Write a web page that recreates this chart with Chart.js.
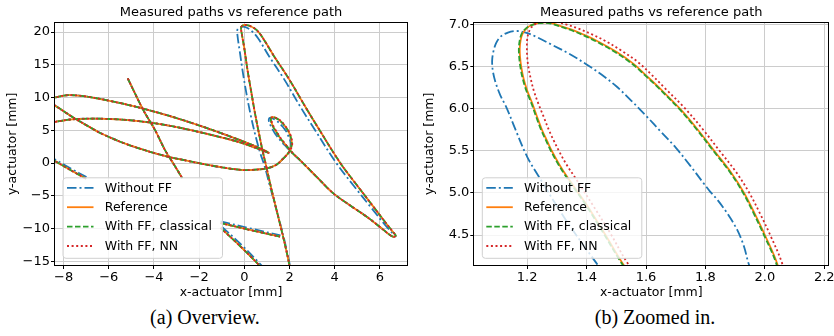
<!DOCTYPE html>
<html><head><meta charset="utf-8">
<script src="https://cdn.jsdelivr.net/npm/chart.js@4.4.1/dist/chart.umd.min.js"></script>
<style>
html,body{margin:0;padding:0;background:#fff;overflow:hidden;width:834px;height:336px;position:relative;}
#c1{position:absolute;left:0;top:0;}
#c2{position:absolute;left:417px;top:0;}
.cap{position:absolute;top:305px;font-family:'Liberation Serif','Times New Roman',serif;font-size:20px;color:#000;white-space:nowrap;transform:translateX(-50%);line-height:24px;}
</style></head><body>
<canvas id="c1" width="417" height="300"></canvas>
<canvas id="c2" width="437" height="300"></canvas>
<div class="cap" style="left:205px">(a) Overview.</div>
<div class="cap" style="left:655px">(b) Zoomed in.</div>
<script>
// ---------- tick values & labels ----------
const xTicksA = [-8, -6, -4, -2, 0, 2, 4, 6];
const xTickLabelsA = ['−8', '−6', '−4', '−2', '0', '2', '4', '6'];
const yTicksA = [-15, -10, -5, 0, 5, 10, 15, 20];
const yTickLabelsA = ['−15', '−10', '−5', '0', '5', '10', '15', '20'];
const xTicksB = [1.2, 1.4, 1.6, 1.8, 2.0, 2.2];
const xTickLabelsB = ['1.2', '1.4', '1.6', '1.8', '2.0', '2.2'];
const yTicksB = [4.5, 5.0, 5.5, 6.0, 6.5, 7.0];
const yTickLabelsB = ['4.5', '5.0', '5.5', '6.0', '6.5', '7.0'];

const seriesLabels = ['Without FF', 'Reference', 'With FF, classical', 'With FF, NN'];

// ---------- path pieces (x, y in mm) ----------
// pieces where all four paths coincide at overview scale
const pathC = [[-8.6, 9.25], [-8.38, 8.78], [-7.9, 7.7], [-7.49, 6.78], [-6.9, 5.6], [-6.38, 4.6], [-5.3, 3.0],
  [-4.17, 1.72], [-3.36, 0.96], [-2.6, 0.4], [-1.96, -0.05], [-1.0, -0.65], [-0.04, -1.07], [0.5, -1.0],
  [0.99, -0.81], [1.4, -0.3], [1.73, 0.72], [1.93, 1.45]];
const pathInner = [[3.2, -2.1], [3.94, -4.63], [4.7, -6.5], [5.42, -8.19], [6.0, -9.75], [6.45, -11.0],
  [6.6, -11.25], [6.7, -11.1]];
const pathB = [[-8.7, 9.75], [-8.38, 10.02], [-7.79, 10.37], [-6.9, 10.11], [-5.42, 9.1], [-3.95, 7.83],
  [-2.48, 6.3], [-1.0, 4.53], [0.47, 2.59], [1.07, 1.57], [0.6, 2.2], [-0.27, 3.25], [-1.74, 4.53],
  [-3.21, 5.64], [-4.69, 6.41], [-6.16, 6.76], [-7.49, 6.71], [-8.38, 6.3], [-8.7, 6.1]];
const pathA = [[-5.16, 12.92], [-4.47, 8.09], [-3.95, 5.03], [-3.51, 1.98], [-3.1, -0.3], [-2.75, -2.3]];
const pathD = [[-8.7, 0.95], [-8.38, 0.3], [-7.7, -1.05], [-7.0, -2.4]];
const pathE = [[-1.05, -9.15], [0.3, -10.25], [1.58, -11.24]];
const pathF = [[-1.05, -9.9], [-0.18, -12.7], [0.69, -15.7], [0.8, -16.2]];

// reference: small loop and big loop
const refLoop = [[2.02, 1.98], [2.09, 2.6], [2.1, 3.1], [2.08, 3.6], [2.043, 4.143], [2.0, 4.5], [1.965, 4.76],
  [1.93, 5.0], [1.885, 5.25], [1.83, 5.5], [1.775, 5.75], [1.715, 6.0], [1.645, 6.25], [1.6, 6.4],
  [1.557, 6.54], [1.5, 6.68], [1.44, 6.8], [1.4, 6.87], [1.35, 6.945], [1.31, 6.99], [1.285, 7.018],
  [1.265, 7.03], [1.24, 7.025], [1.215, 7.0], [1.198, 6.96], [1.185, 6.9], [1.178, 6.82], [1.175, 6.72],
  [1.176, 6.62], [1.18, 6.5], [1.188, 6.36], [1.2, 6.22], [1.218, 6.06], [1.232, 5.92], [1.25, 5.75],
  [1.267, 5.62], [1.283, 5.5], [1.308, 5.34], [1.335, 5.19], [1.4, 4.86], [1.46, 4.52], [1.518, 4.18],
  [1.6, 3.75], [1.75, 3.1], [1.9, 2.5], [2.02, 1.98], [2.2, 1.3], [2.46, 0.46]];
const refBig = [[6.6, -10.6], [6.3, -9.3], [5.71, -6.65], [5.0, -3.45], [4.23, 0.1], [3.3, 5.2], [2.7, 8.6],
  [2.0, 12.7], [1.3, 16.4], [0.8, 19.2], [0.55, 20.3], [0.3, 20.85], [0.11, 21.05], [-0.04, 21.05],
  [-0.14, 20.7], [-0.1, 19.5], [0.0, 17.5], [0.15, 14.0], [0.3, 11.0], [0.45, 8.0], [0.62, 5.0], [0.8, 2.0],
  [0.97, -0.5], [1.2, -4.0], [1.45, -7.5], [1.7, -11.0], [1.9, -14.0], [2.05, -16.5]];

// with FF, classical: small loop
const clsLoop = [[2.02, 1.98], [2.087, 2.6], [2.097, 3.1], [2.077, 3.6], [2.04, 4.143], [1.997, 4.5], [1.962, 4.76],
  [1.927, 5.0], [1.882, 5.25], [1.827, 5.5], [1.772, 5.75], [1.712, 6.0], [1.642, 6.25], [1.597, 6.4],
  [1.554, 6.535], [1.497, 6.675], [1.437, 6.795], [1.397, 6.865], [1.347, 6.94], [1.308, 6.985], [1.283, 7.013],
  [1.263, 7.026], [1.238, 7.021], [1.213, 6.996], [1.195, 6.956], [1.182, 6.9], [1.175, 6.82], [1.172, 6.72],
  [1.173, 6.62], [1.177, 6.5], [1.185, 6.36], [1.197, 6.22], [1.215, 6.06], [1.229, 5.92], [1.247, 5.75],
  [1.264, 5.62], [1.28, 5.5], [1.305, 5.34], [1.332, 5.19], [1.397, 4.86], [1.457, 4.52], [1.515, 4.18],
  [1.597, 3.75], [1.747, 3.1], [1.898, 2.5], [2.018, 1.98], [2.198, 1.3], [2.458, 0.46]];

// with FF, NN: small loop
const nnLoop = [[2.04, 1.98], [2.11, 2.6], [2.12, 3.1], [2.1, 3.6], [2.06, 4.143], [2.018, 4.5], [1.983, 4.76],
  [1.948, 5.0], [1.903, 5.25], [1.848, 5.5], [1.793, 5.75], [1.733, 6.0], [1.663, 6.25], [1.618, 6.41],
  [1.574, 6.555], [1.515, 6.7], [1.46, 6.815], [1.42, 6.885], [1.37, 6.96], [1.33, 7.008], [1.305, 7.035],
  [1.282, 7.05], [1.255, 7.045], [1.232, 7.02], [1.215, 6.975], [1.205, 6.91], [1.2, 6.83], [1.199, 6.73],
  [1.2, 6.62], [1.204, 6.5], [1.212, 6.36], [1.222, 6.22], [1.238, 6.06], [1.254, 5.92], [1.273, 5.75],
  [1.29, 5.62], [1.307, 5.5], [1.332, 5.34], [1.36, 5.19], [1.42, 4.86], [1.48, 4.52], [1.535, 4.18],
  [1.62, 3.75], [1.77, 3.1], [1.91, 2.5], [2.03, 1.98], [2.21, 1.3], [2.47, 0.46]];

// without FF: small loop, big loop and offset pieces
const noffLoop = [[2.0, 1.95], [2.06, 2.6], [2.05, 3.2], [2.0, 3.7], [1.947, 4.143], [1.93, 4.36], [1.907, 4.56],
  [1.873, 4.76], [1.84, 4.92], [1.815, 5.02], [1.795, 5.11], [1.75, 5.32], [1.7, 5.54], [1.65, 5.73],
  [1.6, 5.92], [1.55, 6.1], [1.5, 6.27], [1.45, 6.41], [1.4, 6.53], [1.34, 6.66], [1.28, 6.77], [1.23, 6.86],
  [1.195, 6.91], [1.164, 6.928], [1.135, 6.91], [1.11, 6.86], [1.095, 6.78], [1.086, 6.68], [1.082, 6.57],
  [1.085, 6.44], [1.095, 6.3], [1.11, 6.16], [1.13, 6.02], [1.16, 5.76], [1.2, 5.43], [1.24, 5.19],
  [1.33, 4.68], [1.43, 4.18], [1.52, 3.75], [1.7, 3.05], [1.87, 2.45], [2.0, 1.95], [2.2, 1.25], [2.46, 0.46]];
const noffBig = [[6.56, -10.7], [6.22, -9.4], [5.6, -6.75], [4.85, -3.5], [4.05, 0.1], [3.1, 5.2], [2.48, 8.6],
  [1.78, 12.7], [1.08, 16.4], [0.6, 19.1], [0.3, 20.25], [0.05, 20.75], [-0.12, 20.8], [-0.3, 20.4],
  [-0.3, 19.4], [-0.2, 17.0], [-0.05, 13.5], [0.1, 10.5], [0.27, 7.5], [0.47, 4.5], [0.68, 1.8], [0.9, -0.5],
  [1.17, -4.0], [1.45, -7.5], [1.72, -11.0], [1.92, -14.0], [2.07, -16.5]];
const noffD = [[-8.7, 1.2], [-8.38, 0.56], [-7.7, -0.8], [-6.95, -2.2]];
const noffE = [[-1.05, -8.9], [0.3, -10.0], [1.6, -11.05]];
const noffF = [[-1.0, -9.7], [-0.12, -12.5], [0.78, -15.7], [0.9, -16.2]];

// ---------- assemble series (NaN separates pieces) ----------
function assemble(polylines) {
  const out = [];
  polylines.forEach((pl, i) => {
    if (i > 0) out.push({x: NaN, y: NaN});
    pl.forEach(p => out.push({x: p[0], y: p[1]}));
  });
  return out;
}
const noffData = assemble([pathC.concat(noffLoop, pathInner, noffBig), pathB, pathA, noffD, noffE, noffF]);
const refData = assemble([pathC.concat(refLoop, pathInner, refBig), pathB, pathA, pathD, pathE, pathF]);
const clsData = assemble([pathC.concat(clsLoop, pathInner, refBig), pathB, pathA, pathD, pathE, pathF]);
const nnData = assemble([pathC.concat(nnLoop, pathInner, refBig), pathB, pathA, pathD, pathE, pathF]);

const styles = [
  {color: '#1f77b4', dash: [9.5, 3, 2, 3]},
  {color: '#ff7f0e', dash: []},
  {color: '#2ca02c', dash: [5.5, 2.5]},
  {color: '#d62728', dash: [2, 2.6]}
];
const LW = 1.8;

function datasets() {
  const all = [noffData, refData, clsData, nnData];
  return all.map((d, i) => ({
    label: seriesLabels[i],
    data: d,
    borderColor: styles[i].color,
    backgroundColor: styles[i].color,
    borderDash: styles[i].dash,
    borderWidth: LW,
    pointRadius: 0,
    pointHoverRadius: 0,
    fill: false,
    tension: 0.35,
    spanGaps: false,
    clip: 0,
    order: 4 - i
  }));
}

Chart.defaults.font.family = "'DejaVu Sans', sans-serif";
Chart.defaults.color = '#000';

const framePlugin = {
  id: 'frame',
  afterDraw(chart) {
    const {ctx, chartArea: ca} = chart;
    ctx.save();
    ctx.strokeStyle = '#000';
    ctx.lineWidth = 1;
    const l = Math.round(ca.left) - 0.5, t = Math.round(ca.top) - 0.5;
    const r = Math.round(ca.right) + 0.5, b = Math.round(ca.bottom) + 0.5;
    ctx.strokeRect(l, t, r - l, b - t);
    ctx.restore();
  }
};

const legendPlugin = {
  id: 'insideLegend',
  afterDatasetsDraw(chart) {
    const {ctx, chartArea: ca} = chart;
    const w = 159.5, h = 80.5;
    const x = ca.left + 7.5, y = ca.bottom - 7.2 - h;
    ctx.save();
    ctx.beginPath();
    ctx.roundRect(x + 0.5, y + 0.5, w, h, 3);
    ctx.fillStyle = 'rgba(255,255,255,0.8)';
    ctx.fill();
    ctx.strokeStyle = '#d0d0d0';
    ctx.lineWidth = 1;
    ctx.stroke();
    ctx.font = "12.5px 'DejaVu Sans', sans-serif";
    ctx.textBaseline = 'middle';
    ctx.textAlign = 'left';
    seriesLabels.forEach((lab, i) => {
      const cy = y + 10.5 + i * 19.4;
      ctx.beginPath();
      ctx.setLineDash(styles[i].dash);
      ctx.strokeStyle = styles[i].color;
      ctx.lineWidth = LW;
      ctx.moveTo(x + 4.5, cy);
      ctx.lineTo(x + 31, cy);
      ctx.stroke();
      ctx.setLineDash([]);
      ctx.fillStyle = '#000';
      ctx.fillText(lab, x + 42.3, cy + 0.5);
    });
    ctx.restore();
  }
};

function tickCb(vals, labels) {
  return (v) => {
    const i = vals.findIndex(t => Math.abs(t - v) < 1e-9);
    return i >= 0 ? labels[i] : '';
  };
}

function makeChart(id, cfg) {
  return new Chart(document.getElementById(id), {
    type: 'line',
    data: {datasets: datasets()},
    plugins: [framePlugin, legendPlugin],
    options: {
      responsive: false,
      animation: false,
      devicePixelRatio: 1,
      events: [],
      layout: {padding: {left: 0, right: cfg.padRight, top: 0, bottom: 0}},
      elements: {line: {capBezierPoints: false}},
      plugins: {
        legend: {display: false},
        tooltip: {enabled: false},
        title: {
          display: true,
          fullSize: false,
          text: 'Measured paths vs reference path',
          color: '#000',
          font: {size: 13, weight: 'normal'},
          padding: {top: 4.9, bottom: 2.2}
        }
      },
      scales: {
        x: {
          type: 'linear',
          min: cfg.xMin, max: cfg.xMax,
          afterBuildTicks: s => { s.ticks = cfg.xTicks.map(v => ({value: v})); },
          afterFit: s => { s.height = 35; },
          ticks: {callback: tickCb(cfg.xTicks, cfg.xLabels), font: {size: 13}, color: '#000',
            padding: 1, maxRotation: 0, autoSkip: false},
          grid: {color: '#cccccc', lineWidth: 1, tickColor: '#000', tickLength: 4, tickWidth: 1},
          border: {display: false},
          title: {display: true, text: 'x-actuator [mm]', font: {size: 12.5}, color: '#000',
            padding: {top: 0, bottom: 0}}
        },
        y: {
          type: 'linear',
          min: cfg.yMin, max: cfg.yMax,
          afterBuildTicks: s => { s.ticks = cfg.yTicks.map(v => ({value: v})); },
          afterFit: s => { s.width = cfg.yWidth; },
          ticks: {callback: tickCb(cfg.yTicks, cfg.yLabels), font: {size: 13}, color: '#000', padding: 1},
          grid: {color: '#cccccc', lineWidth: 1, tickColor: '#000', tickLength: 4, tickWidth: 1},
          border: {display: false},
          title: {display: true, text: 'y-actuator [mm]', font: {size: 12.5}, color: '#000',
            padding: {top: 5.5, bottom: 0}}
        }
      }
    }
  });
}

makeChart('c1', {
  xMin: -8.38, xMax: 7.2, yMin: -15.56, yMax: 21.43,
  xTicks: xTicksA, xLabels: xTickLabelsA, yTicks: yTicksA, yLabels: yTickLabelsA,
  padRight: 10, yWidth: 55
});
makeChart('c2', {
  xMin: 1.022, xMax: 2.2135, yMin: 4.143, yMax: 7.027,
  xTicks: xTicksB, xLabels: xTickLabelsB, yTicks: yTicksB, yLabels: yTickLabelsB,
  padRight: 25.7, yWidth: 57.3
});
</script></body></html>
